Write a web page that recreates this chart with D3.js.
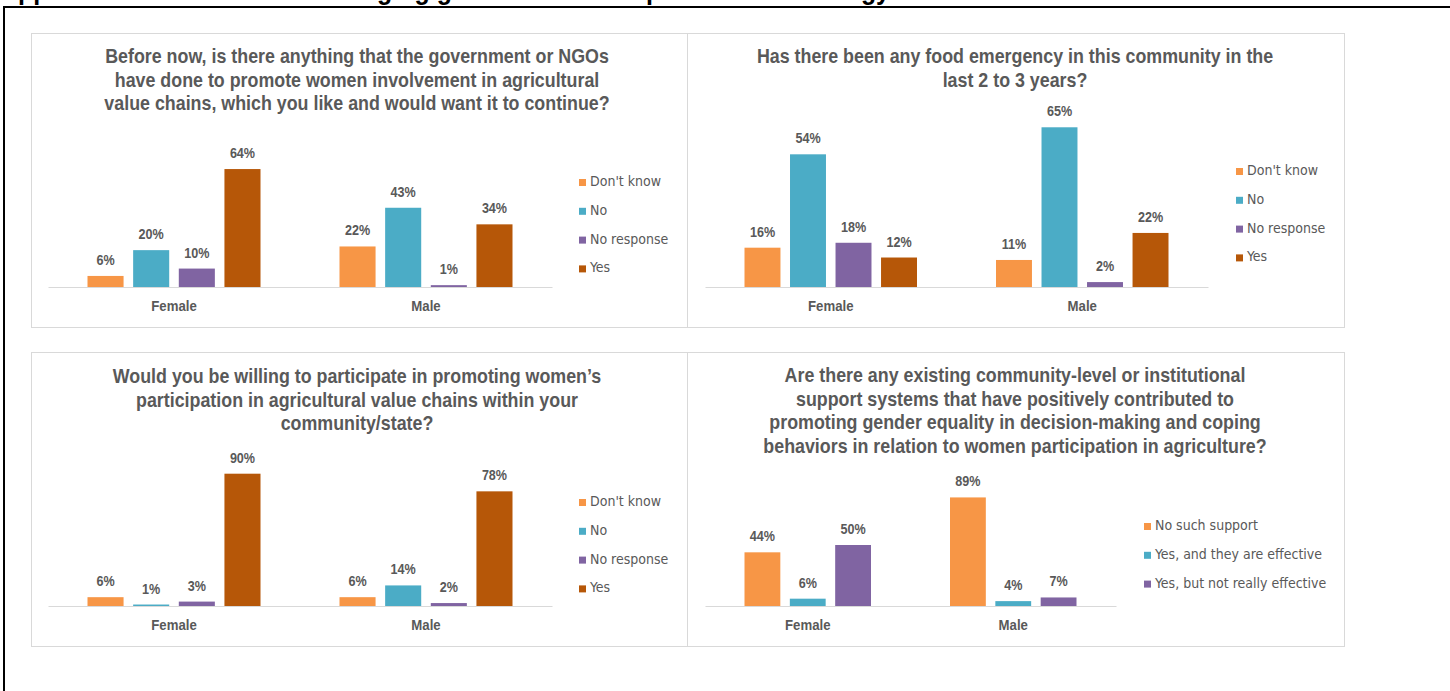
<!DOCTYPE html>
<html>
<head>
<meta charset="utf-8">
<script src="https://cdn.jsdelivr.net/npm/d3@7"></script>
<style>
  body { margin: 0; background: #fff; }
  svg { display: block; }
</style>
</head>
<body>
<div id="chart"></div>
<script>
const groups = ['Female', 'Male'];
const answersA = ["Don't know", 'No', 'No response', 'Yes'];
const answersB = ['No such support', 'Yes, and they are effective', 'Yes, but not really effective'];

const heading = 'Appendix 5: Charts on the emerging gender-related impacts of the strategy';
const title1 = ['Before now, is there anything that the government or NGOs',
    'have done to promote women involvement in agricultural',
    'value chains, which you like and would want it to continue?'];
const title2 = ['Has there been any food emergency in this community in the',
    'last 2 to 3 years?'];
const title3 = ['Would you be willing to participate in promoting women\u2019s',
    'participation in agricultural value chains within your',
    'community/state?'];
const title4 = ['Are there any existing community-level or institutional',
    'support systems that have positively contributed to',
    'promoting gender equality in decision-making and coping',
    'behaviors in relation to women participation in agriculture?'];

// values per group (Female, Male), in answer order
const govSupport = [[0.06, 0.20, 0.10, 0.64], [0.22, 0.43, 0.01, 0.34]];
const foodEmergency = [[0.16, 0.54, 0.18, 0.12], [0.11, 0.65, 0.02, 0.22]];
const willingness = [[0.06, 0.01, 0.03, 0.90], [0.06, 0.14, 0.02, 0.78]];
const supportSystems = [[0.44, 0.06, 0.50], [0.89, 0.04, 0.07]];

const colorsA = ['#F79646', '#4BACC6', '#8064A2', '#B65708'];
const colorsB = ['#F79646', '#4BACC6', '#8064A2'];

const width = 1450;
const height = 691;
const sans = '"Liberation Sans", Arial, sans-serif';
const cond = '"DejaVu Sans Condensed", "DejaVu Sans", sans-serif';
const gray = '#595959';

const svg = d3.select('#chart')
    .append('svg')
    .attr('width', width)
    .attr('height', height)
    .attr('viewBox', [0, 0, width, height]);

// page frame and the heading that is cut off by the top edge
svg.append('text')
    .attr('x', 0)
    .attr('y', -1)
    .attr('textLength', 890)
    .attr('lengthAdjust', 'spacingAndGlyphs')
    .attr('font-family', sans)
    .attr('font-weight', 'bold')
    .attr('font-size', 28)
    .attr('fill', '#000')
    .text(heading);
svg.append('line').attr('x1', 3).attr('x2', width).attr('y1', 7).attr('y2', 7)
    .attr('stroke', '#000').attr('stroke-width', 2);
svg.append('line').attr('x1', 4).attr('x2', 4).attr('y1', 6).attr('y2', height)
    .attr('stroke', '#000').attr('stroke-width', 2);

const panels = [
    { box: [31, 33, 656, 294], title: title1, titleY: 63, titleX: 357, values: govSupport, answers: answersA, colors: colorsA,
      axis: [48, 552], base: 287, top: 158, max: 0.7, legend: [579, 186] },
    { box: [687, 33, 657, 294], title: title2, titleY: 63, titleX: 1015, values: foodEmergency, answers: answersA, colors: colorsA,
      axis: [705, 1208], base: 287, top: 115, max: 0.7, legend: [1236, 175] },
    { box: [31, 352, 656, 294], title: title3, titleY: 383, titleX: 357, values: willingness, answers: answersA, colors: colorsA,
      axis: [48, 552], base: 606, top: 459, max: 1.0, legend: [579, 506] },
    { box: [687, 352, 657, 294], title: title4, titleY: 382, titleX: 1015, values: supportSystems, answers: answersB, colors: colorsB,
      axis: [705, 1116], base: 606, top: 484, max: 1.0, legend: [1144, 530] }
];

panels.forEach(p => {
    const g = svg.append('g');

    g.append('rect')
        .attr('x', p.box[0] + 0.5)
        .attr('y', p.box[1] + 0.5)
        .attr('width', p.box[2])
        .attr('height', p.box[3])
        .attr('fill', '#fff')
        .attr('stroke', '#d9d9d9');

    // narrow bold title
    g.append('text')
        .attr('transform', `translate(${p.titleX},${p.titleY}) scale(0.85,1)`)
        .attr('text-anchor', 'middle')
        .attr('font-family', sans)
        .attr('font-weight', 'bold')
        .attr('font-size', 21)
        .attr('fill', gray)
        .selectAll('tspan')
        .data(p.title)
        .join('tspan')
        .attr('x', 0)
        .attr('y', (d, i) => i * 23.7)
        .text(d => d);

    const x0 = d3.scaleBand()
        .domain(groups)
        .range(p.axis);

    const x1 = d3.scaleBand()
        .domain(p.answers)
        .range([39.5, x0.bandwidth() - 39.5])
        .paddingInner(0.21);

    const y = d3.scaleLinear()
        .domain([0, p.max])
        .range([p.base, p.top]);

    const color = d3.scaleOrdinal(p.answers, p.colors);

    const grp = g.append('g')
        .selectAll('g')
        .data(groups)
        .join('g')
        .attr('transform', d => `translate(${x0(d)},0)`);

    const cells = grp.selectAll('g')
        .data((d, i) => p.values[i].map((v, j) => ({ key: p.answers[j], value: v })))
        .join('g');

    cells.append('rect')
        .attr('x', d => x1(d.key))
        .attr('y', d => y(d.value))
        .attr('width', x1.bandwidth())
        .attr('height', d => y(0) - y(d.value))
        .attr('fill', d => color(d.key));

    cells.append('text')
        .attr('transform', d => `translate(${x1(d.key) + x1.bandwidth() / 2},${y(d.value) - 11}) scale(0.9,1)`)
        .attr('text-anchor', 'middle')
        .attr('font-family', sans)
        .attr('font-weight', 'bold')
        .attr('font-size', 14)
        .attr('fill', gray)
        .text(d => d3.format('.0%')(d.value));

    // category axis
    const axis = g.append('g')
        .attr('transform', `translate(0,${p.base})`)
        .call(d3.axisBottom(x0).tickSize(0).tickPadding(0));
    axis.select('.domain').attr('stroke', '#d9d9d9').attr('stroke-width', 1.2);
    axis.selectAll('.tick text')
        .attr('dy', 0)
        .attr('y', 0)
        .attr('transform', 'translate(0,24) scale(0.88,1)')
        .attr('font-family', sans)
        .attr('font-weight', 'bold')
        .attr('font-size', 15)
        .attr('fill', gray);

    // legend
    const leg = g.append('g')
        .selectAll('g')
        .data(p.answers)
        .join('g')
        .attr('transform', (d, i) => `translate(${p.legend[0]},${p.legend[1] + i * 28.8})`);
    leg.append('rect')
        .attr('x', 0)
        .attr('y', -7)
        .attr('width', 7)
        .attr('height', 7)
        .attr('fill', d => color(d));
    leg.append('text')
        .attr('x', 11)
        .attr('y', 0)
        .attr('font-family', cond)
        .attr('font-size', 14)
        .attr('fill', gray)
        .text(d => d);
});
</script>
</body>
</html>
